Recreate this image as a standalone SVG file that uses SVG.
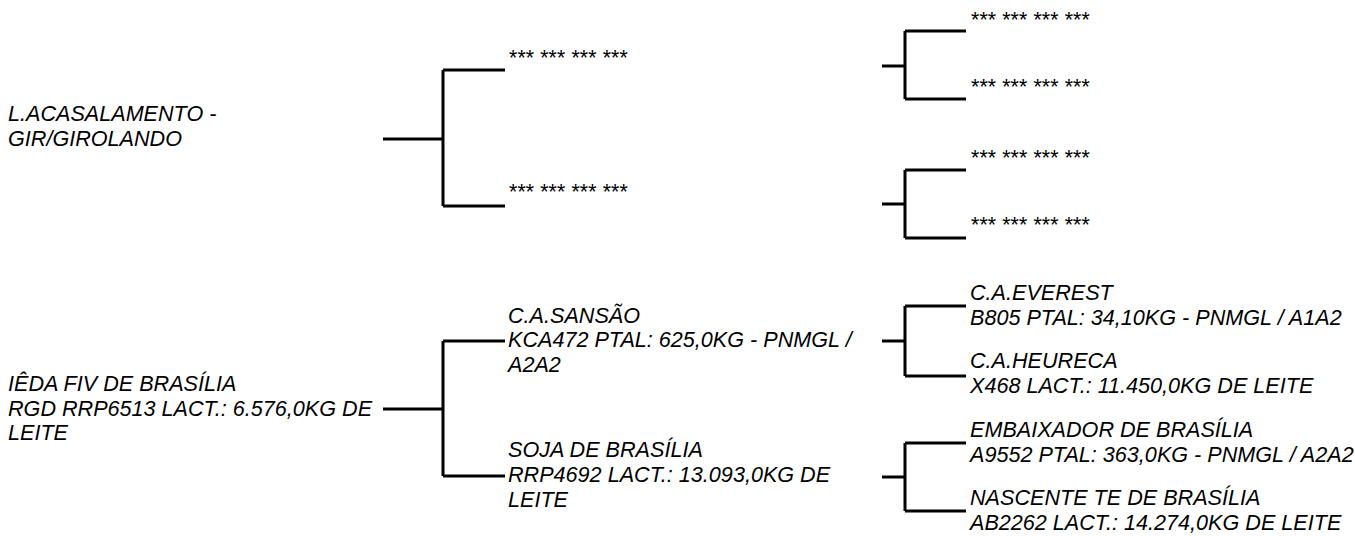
<svg xmlns="http://www.w3.org/2000/svg" width="1355" height="536" viewBox="0 0 1355 536">
<style>
text{font-family:"Liberation Sans",Arial,sans-serif;font-style:italic;font-size:21.6px;fill:#000}
.c{fill:none;stroke:#000;stroke-width:3}
</style>
<rect width="1355" height="536" fill="#fff"/>
<g id="connectors">
<path class="c" d="M383,139H443M443,70V206M443,70H505M443,206H505"/>
<path class="c" d="M882,66H905M905,31V99M905,31H966M905,99H966"/>
<path class="c" d="M882,204H905M905,170V238M905,170H966M905,238H966"/>
<path class="c" d="M383,409H443M443,341V476M443,341H505M443,476H505"/>
<path class="c" d="M882,341H905M905,306V376M905,306H966M905,376H966"/>
<path class="c" d="M882,477H905M905,443V511M905,443H966M905,511H966"/>
</g>
<g id="n-top-root"><text x="8" y="121">L.ACASALAMENTO -</text><text x="8" y="146">GIR/GIROLANDO</text></g>
<g id="n-top-s"><text x="508" y="65">*** *** *** ***</text></g>
<g id="n-top-d"><text x="508" y="199">*** *** *** ***</text></g>
<g id="n-top-ss"><text x="970" y="27">*** *** *** ***</text></g>
<g id="n-top-sd"><text x="970" y="94">*** *** *** ***</text></g>
<g id="n-top-ds"><text x="970" y="165">*** *** *** ***</text></g>
<g id="n-top-dd"><text x="970" y="232">*** *** *** ***</text></g>
<g id="n-root"><text x="8" y="391">IÊDA FIV DE BRASÍLIA</text><text x="8" y="416">RGD RRP6513 LACT.: 6.576,0KG DE</text><text x="8" y="440">LEITE</text></g>
<g id="n-sire"><text x="508" y="323">C.A.SANSÃO</text><text x="508" y="347">KCA472 PTAL: 625,0KG - PNMGL /</text><text x="508" y="372">A2A2</text></g>
<g id="n-dam"><text x="508" y="457">SOJA DE BRASÍLIA</text><text x="508" y="482">RRP4692 LACT.: 13.093,0KG DE</text><text x="508" y="507">LEITE</text></g>
<g id="n-ss"><text x="970" y="300">C.A.EVEREST</text><text x="970" y="325">B805 PTAL: 34,10KG - PNMGL / A1A2</text></g>
<g id="n-sd"><text x="970" y="368">C.A.HEURECA</text><text x="970" y="393">X468 LACT.: 11.450,0KG DE LEITE</text></g>
<g id="n-ds"><text x="970" y="437">EMBAIXADOR DE BRASÍLIA</text><text x="970" y="462">A9552 PTAL: 363,0KG - PNMGL / A2A2</text></g>
<g id="n-dd"><text x="970" y="505">NASCENTE TE DE BRASÍLIA</text><text x="970" y="530">AB2262 LACT.: 14.274,0KG DE LEITE</text></g>
</svg>
